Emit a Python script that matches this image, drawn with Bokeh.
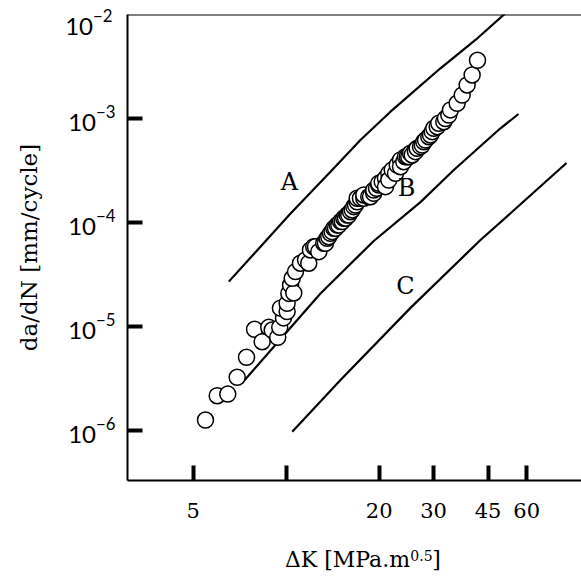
from bokeh.plotting import figure
from bokeh.models import (Label, Span, FixedTicker, Range1d, ColumnDataSource, LogAxis,
                          LogScale)
from bokeh.embed import file_html
from bokeh.resources import INLINE

# ---- data ----
delta_k = [5.48, 5.98, 6.47, 6.94, 7.44, 7.90, 8.36, 8.78, 9.01, 9.39, 9.53, 9.80, 9.58,
           10.07, 10.07, 10.20, 10.33, 10.58, 10.46, 10.72, 11.12, 11.55, 11.83, 11.98,
           12.28, 12.44, 12.75, 13.23, 13.40, 13.57, 13.73, 13.91, 14.08, 14.26, 14.44,
           14.62, 14.80, 14.99, 15.18, 15.36, 15.56, 15.75, 15.94, 16.15, 16.35, 16.55,
           16.76, 16.97, 16.97, 17.39, 17.83, 17.83, 18.50, 18.74, 19.20, 19.20, 19.60,
           19.93, 19.93, 20.45, 20.96, 20.96, 21.48, 21.48, 22.03, 22.58, 22.87, 23.44,
           23.44, 24.02, 24.32, 24.64, 24.93, 25.25, 25.57, 26.20, 26.20, 26.54, 27.20,
           27.55, 27.88, 28.24, 28.94, 29.31, 29.68, 30.04, 30.81, 31.18, 32.36, 32.77,
           33.59, 34.01, 35.75, 37.11, 38.51, 39.97, 41.6]
dadn = [1.26e-6, 2.16e-6, 2.24e-6, 3.25e-6, 5.06e-6, 9.40e-6, 7.14e-6, 9.82e-6, 9.25e-6,
        7.87e-6, 9.82e-6, 1.21e-5, 1.50e-5, 1.39e-5, 1.67e-5, 2.08e-5, 2.51e-5, 2.10e-5,
        2.91e-5, 3.37e-5, 4.06e-5, 4.36e-5, 4.06e-5, 5.44e-5, 5.85e-5, 5.85e-5, 5.24e-5,
        6.31e-5, 6.31e-5, 7.05e-5, 7.30e-5, 7.87e-5, 8.17e-5, 8.79e-5, 8.79e-5, 9.46e-5,
        9.46e-5, 1.02e-4, 1.02e-4, 1.10e-4, 1.10e-4, 1.18e-4, 1.18e-4, 1.27e-4, 1.32e-4,
        1.42e-4, 1.47e-4, 1.58e-4, 1.71e-4, 1.71e-4, 1.71e-4, 1.84e-4, 1.77e-4, 1.77e-4,
        1.91e-4, 2.05e-4, 2.13e-4, 2.29e-4, 2.38e-4, 2.47e-4, 2.66e-4, 2.21e-4, 2.97e-4,
        2.56e-4, 3.20e-4, 2.97e-4, 3.57e-4, 3.99e-4, 3.44e-4, 3.84e-4, 4.29e-4, 4.29e-4,
        4.29e-4, 4.63e-4, 4.46e-4, 4.98e-4, 4.80e-4, 5.17e-4, 5.36e-4, 5.56e-4, 5.98e-4,
        6.21e-4, 6.68e-4, 6.94e-4, 7.47e-4, 8.05e-4, 8.34e-4, 8.99e-4, 9.31e-4, 1.00e-3,
        1.08e-3, 1.21e-3, 1.40e-3, 1.68e-3, 2.10e-3, 2.62e-3, 3.63e-3]

curve_a_k = [6.52, 10.33, 13.91, 17.39, 21.75, 31.57, 40.98, 51.25]
curve_a_rate = [2.70e-5, 1.22e-4, 3.08e-4, 6.21e-4, 1.163e-3, 3.04e-3, 5.69e-3, 1.03e-2]
curve_b_k = [7.20, 12.91, 19.20, 27.20, 34.86, 49.37, 56.46]
curve_b_rate = [2.86e-6, 2.08e-5, 6.64e-5, 1.57e-4, 3.20e-4, 8.05e-4, 1.105e-3]
curve_c_k = [10.46, 14.99, 25.25, 42.54, 53.20, 80.75]
curve_c_rate = [9.74e-7, 3.06e-6, 1.51e-5, 6.79e-5, 1.226e-4, 3.73e-4]

curve_names = ["A", "B", "C"]
curve_label_k = [10.25, 24.5, 24.3]
curve_label_rate = [2.45e-4, 2.15e-4, 2.45e-5]

x_ticks = [5, 10, 20, 30, 45, 60]
x_tick_labels = ["5", "", "20", "30", "45", "60"]
y_ticks = [1e-6, 1e-5, 1e-4, 1e-3]      # ticks with marks and labels
y_top_tick = [1e-2]                      # label only, at the top edge

# x-axis title pieces, anchored (centre) at positions along the ΔK scale
x_title_parts = ["\u0394K [MPa.m", "]"]
x_title_at = [15.79, 30.65]
x_title_sup = ["0.5"]
x_title_sup_at = [27.41]

x_min, x_max = 3.065, 90.3
y_min, y_max = 3.305e-7, 1e-2
TOP_LABEL_DROP = 10 ** (8 / 104)   # nudges the 10^-2 label 8 px below the top edge

SERIF = "DejaVu Serif"
SANS = "Lato"

p = figure(width=581, height=577, x_axis_type="log", y_axis_type="log",
           x_range=Range1d(x_min, x_max), y_range=Range1d(y_min, y_max),
           output_backend="svg", toolbar_location=None,
           min_border_left=127, min_border_right=0, min_border_top=14,
           min_border_bottom=97)
p.outline_line_color = None
p.grid.visible = False
p.background_fill_color = "white"
p.border_fill_color = "white"
p.extra_y_ranges = {"toplab": Range1d(y_min * TOP_LABEL_DROP, y_max * TOP_LABEL_DROP)}
p.extra_y_scales = {"toplab": LogScale()}

# x axis
xa = p.xaxis[0]
xa.ticker = FixedTicker(ticks=x_ticks, minor_ticks=[])
xa.major_label_overrides = {t: s for t, s in zip(x_ticks, x_tick_labels)}
xa.major_label_text_font = SERIF
xa.major_label_text_font_size = "21px"
xa.major_label_text_color = "black"
xa.major_label_standoff = 22

# y axis (log formatter gives 10 with a raised exponent)
ya = p.yaxis[0]
ya.ticker = FixedTicker(ticks=y_ticks, minor_ticks=[])
ya.major_label_text_font = SANS
ya.major_label_text_font_size = "24px"
ya.major_label_text_color = "black"
ya.major_label_standoff = 12

for ax in (xa, ya):
    ax.major_tick_in = 15
    ax.major_tick_out = 0
    ax.major_tick_line_width = 4
    ax.major_tick_line_color = "black"
    ax.minor_tick_line_color = None
    ax.axis_line_width = 2
    ax.axis_line_color = "black"

# second left axis: only the 10^-2 label (pulled back beside the others) and the title
yl = LogAxis(y_range_name="toplab", ticker=FixedTicker(ticks=y_top_tick, minor_ticks=[]),
             axis_line_color=None, major_tick_line_color=None, minor_tick_line_color=None,
             major_tick_in=0, major_tick_out=0, major_label_standoff=-47,
             major_label_text_font=SANS, major_label_text_font_size="24px",
             major_label_text_color="black",
             axis_label="da/dN [mm/cycle]", axis_label_text_font=SERIF,
             axis_label_text_font_size="23px", axis_label_text_font_style="normal",
             axis_label_text_color="black", axis_label_standoff=20)
p.add_layout(yl, "left")


def title_axis(ticks, texts, size, standoff):
    return LogAxis(ticker=FixedTicker(ticks=ticks, minor_ticks=[]),
                   major_label_overrides={t: s for t, s in zip(ticks, texts)},
                   axis_line_color=None, major_tick_line_color=None,
                   minor_tick_line_color=None, major_tick_in=0, major_tick_out=0,
                   major_label_standoff=standoff, major_label_text_font=SERIF,
                   major_label_text_font_size=size, major_label_text_color="black")


# main title row, then the superscript row pulled back up beside it
p.add_layout(title_axis(x_title_at, x_title_parts, "22px", 26), "below")
p.add_layout(title_axis(x_title_sup_at, x_title_sup, "14px", -25), "below")

# top border of the frame
p.add_layout(Span(location=y_max, dimension="width", line_color="black", line_width=2))

# curves
for ks, rs in ((curve_a_k, curve_a_rate), (curve_b_k, curve_b_rate), (curve_c_k, curve_c_rate)):
    p.line(ks, rs, line_color="black", line_width=2.2)

src = ColumnDataSource(dict(k=delta_k, r=dadn))
p.scatter("k", "r", source=src, size=16, marker="circle", fill_color="white",
          line_color="black", line_width=1.5)

for name, k, r in zip(curve_names, curve_label_k, curve_label_rate):
    p.add_layout(Label(x=k, y=r, text=name, text_align="center", text_baseline="middle",
                       text_font=SERIF, text_font_size="24px", text_color="black"))

open("out.html", "w").write(file_html(p, INLINE))
